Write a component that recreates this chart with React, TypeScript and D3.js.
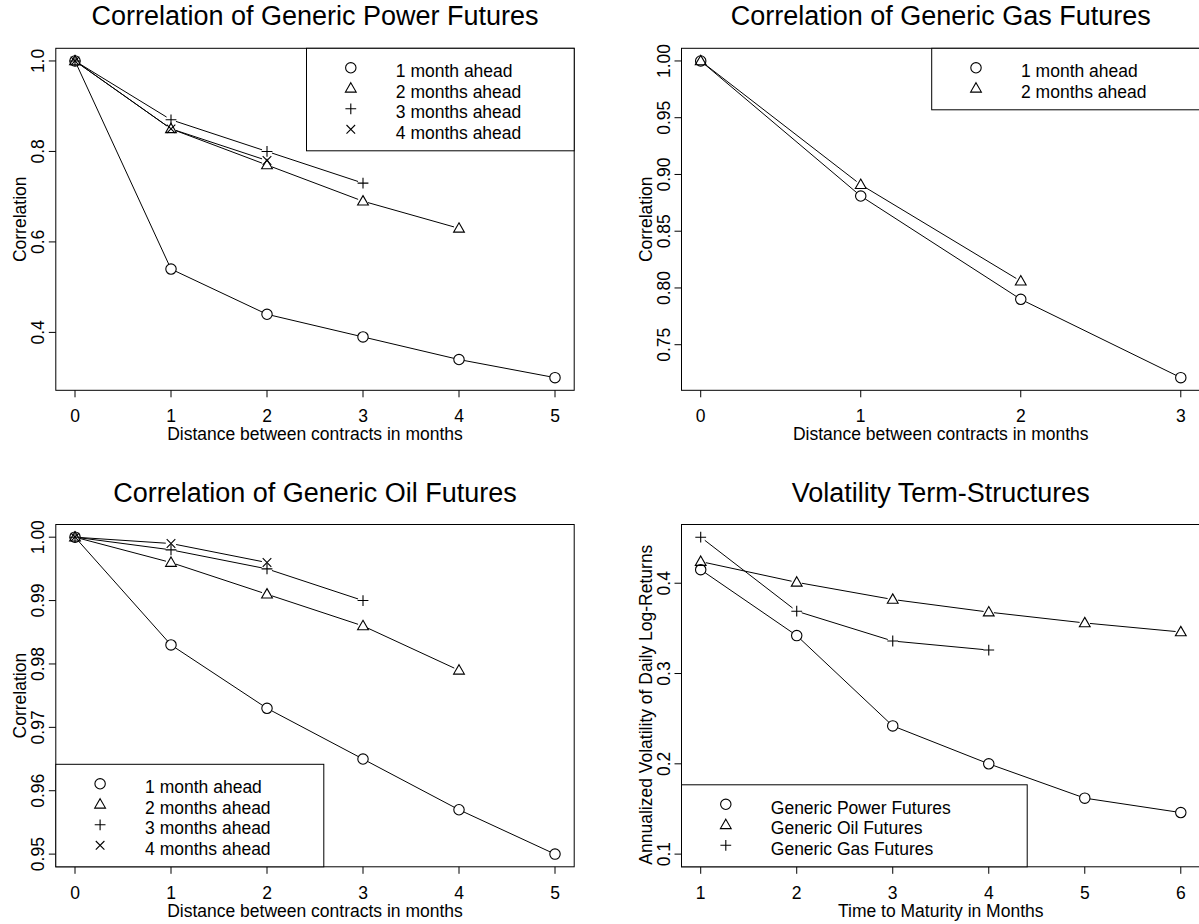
import React from "react";
import * as d3 from "d3";

const W = 1199;
const H = 924;
const FONT = '"Liberation Sans", Arial, Helvetica, sans-serif';

// ---- data ----
const distances = [0, 1, 2, 3, 4, 5];
const maturities = [1, 2, 3, 4, 5, 6];

const power1 = [1.0, 0.54, 0.44, 0.39, 0.34, 0.3];
const power2 = [1.0, 0.85, 0.77, 0.69, 0.63];
const power3 = [1.0, 0.87, 0.8, 0.73];
const power4 = [1.0, 0.85, 0.78];

const gas1 = [1.0, 0.881, 0.79, 0.721];
const gas2 = [1.0, 0.891, 0.806];

const oil1 = [1.0, 0.983, 0.973, 0.965, 0.957, 0.95];
const oil2 = [1.0, 0.996, 0.991, 0.986, 0.979];
const oil3 = [1.0, 0.998, 0.995, 0.99];
const oil4 = [1.0, 0.999, 0.996];

const volPower = [0.415, 0.342, 0.242, 0.2, 0.162, 0.146];
const volOil = [0.424, 0.401, 0.382, 0.368, 0.356, 0.346];
const volGas = [0.451, 0.369, 0.336, 0.326];

const aheadLabels = ["1 month ahead", "2 months ahead", "3 months ahead", "4 months ahead"];
const volLabels = ["Generic Power Futures", "Generic Oil Futures", "Generic Gas Futures"];

const powerYTicks = [0.4, 0.6, 0.8, 1.0];
const gasYTicks = [0.75, 0.8, 0.85, 0.9, 0.95, 1.0];
const oilYTicks = [0.95, 0.96, 0.97, 0.98, 0.99, 1.0];
const volYTicks = [0.1, 0.2, 0.3, 0.4];

type Shape = "circle" | "triangle" | "plus" | "cross";
const shapes: Shape[] = ["circle", "triangle", "plus", "cross"];

type Series = { xs: number[]; ys: number[]; shape: Shape };

function Marker({ shape, x, y }: { shape: Shape; x: number; y: number }) {
  const common = { fill: "none", stroke: "#000", strokeWidth: 1.1 };
  if (shape === "circle") return <circle cx={x} cy={y} r={5.2} {...common} />;
  if (shape === "triangle")
    return <path d={`M${x},${y - 5.6}L${x + 5.4},${y + 3.8}L${x - 5.4},${y + 3.8}Z`} {...common} />;
  if (shape === "plus")
    return <path d={`M${x - 5.4},${y}H${x + 5.4}M${x},${y - 5.4}V${y + 5.4}`} {...common} />;
  return (
    <path
      d={`M${x - 4.3},${y - 4.3}L${x + 4.3},${y + 4.3}M${x - 4.3},${y + 4.3}L${x + 4.3},${y - 4.3}`}
      {...common}
    />
  );
}

type PanelProps = {
  box: { l: number; r: number; t: number; b: number };
  xRange: [number, number];
  yRange: [number, number];
  xTicks: number[];
  yTicks: number[];
  yFmt: string;
  title: string;
  xlab: string;
  ylab: string;
  ylabShift?: number;
  series: Series[];
  legend: { labels: string[]; shapes: Shape[]; x: number; y: number; w: number; anchor: "tr" | "bl" };
};

function Panel(p: PanelProps) {
  const { l, r, t, b } = p.box;
  const xr = p.xRange[1] - p.xRange[0];
  const yr = p.yRange[1] - p.yRange[0];
  const x = d3.scaleLinear().domain([p.xRange[0] - 0.04 * xr, p.xRange[1] + 0.04 * xr]).range([l, r]);
  const y = d3.scaleLinear().domain([p.yRange[0] - 0.04 * yr, p.yRange[1] + 0.04 * yr]).range([b, t]);
  const fmt = d3.format(p.yFmt);
  const fs = 17.5;
  const gap = 5.2;

  const segs: string[] = [];
  p.series.forEach((s) => {
    for (let i = 0; i < s.ys.length - 1; i++) {
      const x0 = x(s.xs[i]), y0 = y(s.ys[i]);
      const x1 = x(s.xs[i + 1]), y1 = y(s.ys[i + 1]);
      const len = Math.hypot(x1 - x0, y1 - y0);
      if (len <= 2 * gap) continue;
      const ux = (x1 - x0) / len, uy = (y1 - y0) / len;
      segs.push(`M${x0 + ux * gap},${y0 + uy * gap}L${x1 - ux * gap},${y1 - uy * gap}`);
    }
  });

  const lg = p.legend;
  const rowH = 20.5;
  const lh = rowH * (lg.labels.length + 1);
  const lx = lg.anchor === "tr" ? lg.x - lg.w : lg.x;
  const ly = lg.anchor === "tr" ? lg.y : lg.y - lh;

  return (
    <g fontFamily={FONT} fill="#000">
      <text x={(l + r) / 2} y={t - 23} fontSize={27} textAnchor="middle">
        {p.title}
      </text>
      <rect x={l} y={t} width={r - l} height={b - t} fill="none" stroke="#000" strokeWidth={1} />
      {p.xTicks.map((v) => (
        <g key={"xt" + v}>
          <line x1={x(v)} x2={x(v)} y1={b} y2={b + 7} stroke="#000" strokeWidth={1} />
          <text x={x(v)} y={b + 32} fontSize={fs} textAnchor="middle">
            {String(v)}
          </text>
        </g>
      ))}
      {p.yTicks.map((v) => (
        <g key={"yt" + v}>
          <line x1={l - 7} x2={l} y1={y(v)} y2={y(v)} stroke="#000" strokeWidth={1} />
          <text transform={`translate(${l - 11.5},${y(v)}) rotate(-90)`} fontSize={fs} textAnchor="middle">
            {fmt(v)}
          </text>
        </g>
      ))}
      <text x={(l + r) / 2} y={b + 49.7} fontSize={fs} textAnchor="middle">
        {p.xlab}
      </text>
      <text
        transform={`translate(${l - 29.5},${(t + b) / 2 + (p.ylabShift || 0)}) rotate(-90)`}
        fontSize={fs}
        textAnchor="middle"
      >
        {p.ylab}
      </text>
      <path d={segs.join("")} fill="none" stroke="#000" strokeWidth={1} />
      {p.series.map((s, si) =>
        s.ys.map((v, i) => <Marker key={si + "-" + i} shape={s.shape} x={x(s.xs[i])} y={y(v)} />)
      )}
      <rect x={lx} y={ly} width={lg.w} height={lh} fill="#fff" stroke="#000" strokeWidth={1} />
      {lg.labels.map((lab, i) => {
        const ry = ly + 19.5 + rowH * i;
        return (
          <g key={"lg" + i}>
            <Marker shape={lg.shapes[i]} x={lx + 44.3} y={ry} />
            <text x={lx + 89.3} y={ry + 9.5} fontSize={fs}>
              {lab}
            </text>
          </g>
        );
      })}
    </g>
  );
}

export default function App() {
  const top = { t: 48.3, b: 390.3 };
  const bot = { t: 524.5, b: 866.8 };
  const left = { l: 55.8, r: 574.2 };
  const right = { l: 681.5, r: 1200 };
  const xlab = "Distance between contracts in months";

  const mk = (vals: number[][], xs: number[]): Series[] =>
    vals.map((ys, i) => ({ xs: xs.slice(0, ys.length), ys, shape: shapes[i] }));

  return (
    <svg
      width={W}
      height={H}
      viewBox={`0 0 ${W} ${H}`}
      style={{ position: "absolute", left: 0, top: 0, background: "#fff" }}
    >
      <rect x={0} y={0} width={W} height={H} fill="#fff" />
      <Panel
        box={{ ...left, ...top }}
        xRange={[0, 5]}
        yRange={[0.3, 1.0]}
        xTicks={distances}
        yTicks={powerYTicks}
        yFmt=".1f"
        title="Correlation of Generic Power Futures"
        xlab={xlab}
        ylab="Correlation"
        series={mk([power1, power2, power3, power4], distances)}
        legend={{ labels: aheadLabels, shapes, x: left.r, y: top.t, w: 267.7, anchor: "tr" }}
      />
      <Panel
        box={{ ...right, ...top }}
        xRange={[0, 3]}
        yRange={[0.721, 1.0]}
        xTicks={distances.slice(0, 4)}
        yTicks={gasYTicks}
        yFmt=".2f"
        title="Correlation of Generic Gas Futures"
        xlab={xlab}
        ylab="Correlation"
        series={mk([gas1, gas2], distances)}
        legend={{ labels: aheadLabels.slice(0, 2), shapes, x: right.r, y: top.t, w: 268.3, anchor: "tr" }}
      />
      <Panel
        box={{ ...left, ...bot }}
        xRange={[0, 5]}
        yRange={[0.95, 1.0]}
        xTicks={distances}
        yTicks={oilYTicks}
        yFmt=".2f"
        title="Correlation of Generic Oil Futures"
        xlab={xlab}
        ylab="Correlation"
        series={mk([oil1, oil2, oil3, oil4], distances)}
        legend={{ labels: aheadLabels, shapes, x: left.l, y: bot.b, w: 268, anchor: "bl" }}
      />
      <Panel
        box={{ ...right, ...bot }}
        xRange={[1, 6]}
        yRange={[0.1, 0.451]}
        xTicks={maturities}
        yTicks={volYTicks}
        yFmt=".1f"
        title="Volatility Term-Structures"
        xlab="Time to Maturity in Months"
        ylab="Annualized Volatility of Daily Log-Returns"
        ylabShift={9}
        series={[
          { xs: maturities, ys: volPower, shape: "circle" },
          { xs: maturities, ys: volOil, shape: "triangle" },
          { xs: maturities.slice(0, volGas.length), ys: volGas, shape: "plus" },
        ]}
        legend={{ labels: volLabels, shapes, x: right.l, y: bot.b, w: 345.7, anchor: "bl" }}
      />
    </svg>
  );
}
